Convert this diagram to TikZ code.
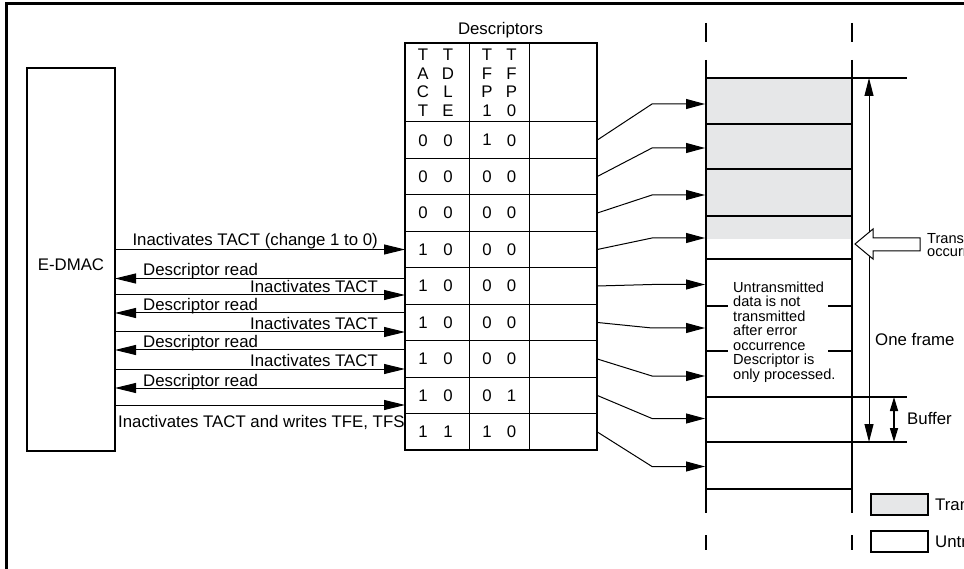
\documentclass[tikz,border=0pt]{standalone}
\usepackage{fontspec}
\setmainfont{Liberation Sans}
\usetikzlibrary{arrows.meta}
\definecolor{txfill}{HTML}{E6E7E8}
\newcommand{\dgMain}{\fontsize{16.8}{18.5}\selectfont}
\newcommand{\dgSmall}{\fontsize{14.6}{14.5}\selectfont}
\newcommand{\dgNote}{\fontsize{14.6}{13}\selectfont}
\begin{document}
\begin{tikzpicture}[x=1pt,y=-1pt,font=\dgMain,
  fineline/.style={line width=1pt},
  bufline/.style={line width=1.3pt},
  heavyline/.style={line width=2.6pt},
  thickbox/.style={draw,line width=2pt,inner sep=0pt,outer sep=0pt},
  lab/.style={inner sep=0pt},
  arr/.style={line width=1pt,-{Triangle[length=21pt,width=10pt]}},
  ptr/.style={line width=1pt,-{Triangle[length=19pt,width=10pt]}},
  dbl/.style={line width=1pt,{Triangle[length=18pt,width=9pt]}-{Triangle[length=18pt,width=9pt]}},
  dblsmall/.style={line width=1.5pt,{Triangle[length=14pt,width=8pt]}-{Triangle[length=14pt,width=8pt]}}]
\useasboundingbox (0,0) rectangle (964,569);
\clip (0,0) rectangle (964,569);

% outer frame (top and left edges)
\draw[line width=3pt] (6.7,600) -- (6.7,3.5) -- (1000,3.5);

% E-DMAC block
\node[thickbox,minimum width=88pt,minimum height=383pt,anchor=north west] (edmac) at (27,68) {};
\node[lab] (edmactxt) at (71,265) {E-DMAC};

% Descriptor table
\node[lab,anchor=base] (desctitle) at (500.5,34.5) {Descriptors};
\node[thickbox,minimum width=192pt,minimum height=407pt,anchor=north west] (tbl) at (405,43) {};
\draw[fineline] (469,43) -- (469,450);
\draw[fineline] (529,43) -- (529,450);
\foreach \k in {0,...,8} {
  \pgfmathsetmacro\yy{122+\k*36.444}
  \draw[fineline] (405,\yy) -- (597,\yy);
}
\foreach \x/\a/\b/\c/\d [count=\n] in {423/T/A/C/T,448/T/D/L/E,487/T/F/P/1,511.5/T/F/P/0} {
  \node[lab] (h\n a) at (\x,55) {\a};
  \node[lab] (h\n b) at (\x,73.5) {\b};
  \node[lab] (h\n c) at (\x,92) {\c};
  \node[lab] (h\n d) at (\x,110.5) {\d};
}
\foreach \a/\b/\c/\d [count=\n] in {0/0/1/0,0/0/0/0,0/0/0/0,1/0/0/0,1/0/0/0,1/0/0/0,1/0/0/0,1/0/0/1,1/1/1/0} {
  \pgfmathsetmacro\yy{122+(\n-0.5)*36.444}
  \node[lab] (d\n a) at (423,\yy) {\a};
  \node[lab] (d\n b) at (448,\yy) {\b};
  \node[lab] (d\n c) at (487,\yy) {\c};
  \node[lab] (d\n d) at (511.5,\yy) {\d};
  \coordinate (r\n) at (597,\yy);
}

% E-DMAC <-> descriptor arrows
\draw[arr] (edmac.east |- 0,249.5) -- (tbl.west |- 0,249.5);
\node[lab,anchor=base east] (l1) at (378,246) {Inactivates TACT (change 1 to 0)};
\draw[arr] (tbl.west |- 0,278.5) -- (edmac.east |- 0,278.5);
\node[lab,anchor=base west] (l2) at (143,276) {Descriptor read};
\draw[arr] (edmac.east |- 0,295) -- (tbl.west |- 0,295);
\node[lab,anchor=base east] (l3) at (378,292.5) {Inactivates TACT};
\draw[arr] (tbl.west |- 0,313) -- (edmac.east |- 0,313);
\node[lab,anchor=base west] (l4) at (143,311) {Descriptor read};
\draw[arr] (edmac.east |- 0,332) -- (tbl.west |- 0,332);
\node[lab,anchor=base east] (l5) at (378,329.5) {Inactivates TACT};
\draw[arr] (tbl.west |- 0,350) -- (edmac.east |- 0,350);
\node[lab,anchor=base west] (l6) at (143,348) {Descriptor read};
\draw[arr] (edmac.east |- 0,369) -- (tbl.west |- 0,369);
\node[lab,anchor=base east] (l7) at (378,366.5) {Inactivates TACT};
\draw[arr] (tbl.west |- 0,388) -- (edmac.east |- 0,388);
\node[lab,anchor=base west] (l8) at (143,386) {Descriptor read};
\draw[arr] (edmac.east |- 0,405) -- (tbl.west |- 0,405);
\node[lab,anchor=base west] (l9) at (118,427) {Inactivates TACT and writes TFE, TFS};

% Buffer
\fill[txfill] (706,78) rectangle (852,239);
\draw[bufline] (706,78) -- (907,78);
\draw[bufline] (706,124) -- (852,124);
\draw[bufline] (706,169) -- (852,169);
\draw[bufline] (706,216) -- (852,216);
\draw[bufline] (706,259) -- (852,259);
\draw[bufline] (706,306) -- (728,306);
\draw[bufline] (828,306) -- (852,306);
\draw[bufline] (706,351) -- (728,351);
\draw[bufline] (828,351) -- (852,351);
\draw[bufline] (706,397) -- (907,397);
\draw[bufline] (706,442) -- (907,442);
\draw[bufline] (706,489) -- (852,489);
\foreach \x in {706,852} {
  \draw[heavyline] (\x,60) -- (\x,513);
  \draw[heavyline] (\x,23) -- (\x,42);
  \draw[heavyline] (\x,535) -- (\x,550);
}
\node[lab,anchor=north west,align=left,font=\dgSmall] (untx) at (733,281.5)
  {Untransmitted\\data is not\\transmitted\\after error\\occurrence\\Descriptor is\\only processed.};

% descriptor -> buffer pointers
\foreach \y [count=\n] in {104,148,195,238,284.5,328,376,418.5,466.5} {
  \coordinate (k\n) at (652,\y);
  \coordinate (b\n) at (705,\y);
  \draw[ptr] (r\n) -- (k\n) -- (b\n);
}

% One frame / Buffer dimension arrows
\coordinate (oft) at (869,78);
\coordinate (ofb) at (869,442);
\draw[dbl] (oft) -- (ofb);
\node[lab,anchor=west] (oneframe) at (875,340) {One frame};
\coordinate (bft) at (894,397);
\coordinate (bfb) at (894,442);
\draw[dblsmall] (bft) -- (bfb);
\node[lab,anchor=west] (buflab) at (907,419) {Buffer};

% Transmission error hollow arrow
\draw[fineline,fill=white] (855,244) -- (873,229) -- (873,238) -- (920,238) -- (920,251) -- (873,251) -- (873,259) -- cycle;
\node[lab,anchor=west,align=left,font=\dgNote] (txerr) at (927,244.5) {Transmission error\\occurrence};

% Legend
\node[thickbox,fill=txfill,minimum width=57pt,minimum height=21pt,anchor=north west] (leg1) at (871,494) {};
\node[lab,anchor=west] (leg1t) at (935,504.5) {Transmitted data};
\node[thickbox,fill=white,minimum width=57pt,minimum height=21pt,anchor=north west] (leg2) at (871,531) {};
\node[lab,anchor=west] (leg2t) at (935,541.5) {Untransmitted data};
\end{tikzpicture}
\end{document}
